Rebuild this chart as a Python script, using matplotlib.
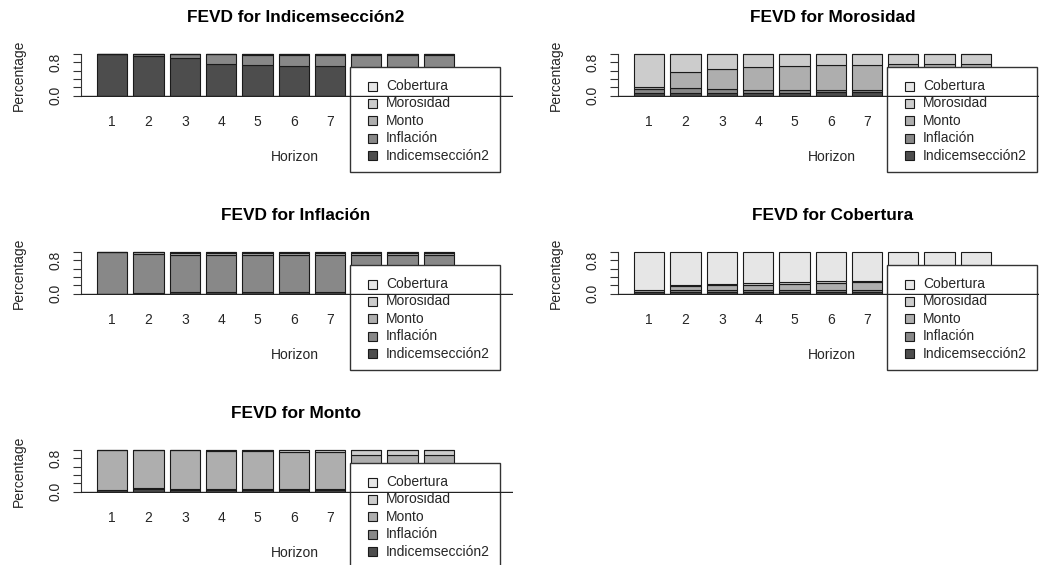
import matplotlib
matplotlib.use("Agg")
import matplotlib.pyplot as plt
from matplotlib.patches import Rectangle
from matplotlib.transforms import Affine2D
import numpy as np

plt.rcParams["font.family"] = ["Liberation Sans", "DejaVu Sans"]

# %%
horizons = list(range(1, 11))
variables = ["Indicemsección2", "Inflación", "Monto", "Morosidad", "Cobertura"]
grays = ["#4d4d4d", "#888888", "#aeaeae", "#cccccc", "#e6e6e6"]

# shares per horizon, columns in the order of `variables`
fevd_indice = [
    [1.00, 0.00, 0.000, 0.000, 0.000],
    [0.95, 0.04, 0.005, 0.003, 0.002],
    [0.91, 0.08, 0.005, 0.003, 0.002],
    [0.76, 0.23, 0.005, 0.003, 0.002],
    [0.73, 0.24, 0.020, 0.005, 0.005],
    [0.71, 0.26, 0.020, 0.005, 0.005],
    [0.70, 0.27, 0.020, 0.005, 0.005],
    [0.69, 0.28, 0.020, 0.005, 0.005],
    [0.68, 0.29, 0.020, 0.005, 0.005],
    [0.67, 0.30, 0.020, 0.005, 0.005],
]
fevd_morosidad = [
    [0.07, 0.08, 0.05, 0.80, 0.00],
    [0.07, 0.12, 0.37, 0.44, 0.00],
    [0.07, 0.08, 0.48, 0.37, 0.00],
    [0.07, 0.07, 0.54, 0.32, 0.00],
    [0.07, 0.07, 0.57, 0.29, 0.00],
    [0.08, 0.06, 0.60, 0.26, 0.00],
    [0.08, 0.05, 0.61, 0.26, 0.00],
    [0.08, 0.05, 0.62, 0.25, 0.00],
    [0.08, 0.05, 0.63, 0.24, 0.00],
    [0.08, 0.05, 0.63, 0.24, 0.00],
]
fevd_inflacion = [
    [0.005, 0.995, 0.00, 0.00, 0.00],
    [0.020, 0.940, 0.03, 0.01, 0.00],
    [0.030, 0.900, 0.05, 0.02, 0.00],
    [0.030, 0.890, 0.06, 0.02, 0.00],
    [0.030, 0.890, 0.06, 0.02, 0.00],
    [0.030, 0.890, 0.06, 0.02, 0.00],
    [0.030, 0.890, 0.06, 0.02, 0.00],
    [0.030, 0.890, 0.06, 0.02, 0.00],
    [0.030, 0.890, 0.06, 0.02, 0.00],
    [0.030, 0.890, 0.06, 0.02, 0.00],
]
fevd_cobertura = [
    [0.03, 0.02, 0.04, 0.01, 0.90],
    [0.05, 0.05, 0.08, 0.02, 0.80],
    [0.05, 0.05, 0.10, 0.03, 0.77],
    [0.05, 0.05, 0.12, 0.03, 0.75],
    [0.05, 0.05, 0.14, 0.03, 0.73],
    [0.05, 0.05, 0.15, 0.06, 0.69],
    [0.05, 0.05, 0.17, 0.03, 0.70],
    [0.05, 0.05, 0.17, 0.04, 0.69],
    [0.05, 0.05, 0.17, 0.04, 0.69],
    [0.05, 0.05, 0.17, 0.04, 0.69],
]
fevd_monto = [
    [0.04, 0.005, 0.955, 0.000, 0.000],
    [0.07, 0.010, 0.920, 0.000, 0.000],
    [0.05, 0.010, 0.930, 0.005, 0.005],
    [0.05, 0.010, 0.920, 0.010, 0.010],
    [0.05, 0.010, 0.910, 0.020, 0.010],
    [0.05, 0.010, 0.890, 0.040, 0.010],
    [0.05, 0.010, 0.880, 0.050, 0.010],
    [0.05, 0.010, 0.830, 0.100, 0.010],
    [0.05, 0.010, 0.820, 0.110, 0.010],
    [0.05, 0.010, 0.810, 0.120, 0.010],
]

panels = [
    ("Indicemsección2", fevd_indice, (0, 0)),
    ("Morosidad", fevd_morosidad, (537, 0)),
    ("Inflación", fevd_inflacion, (0, 198)),
    ("Cobertura", fevd_cobertura, (537, 198)),
    ("Monto", fevd_monto, (0, 396)),
]

# %%
W, H = 1039, 565
fig = plt.figure(figsize=(W / 100, H / 100), dpi=100)
fig.patch.set_facecolor("white")

TXT = "#262626"
# plot region of one panel, in pixels from the panel's top-left corner
X0, X1, Y0, Y1 = 81, 513, 52.3, 97.4
centers = 0.7 + 1.2 * np.arange(len(horizons))
# the legend box sits over the last three horizon labels
shown = [str(h) if h <= 7 else "" for h in horizons]


def panel_tf(dx, dy):
    return Affine2D().translate(dx, dy).scale(1 / W, -1 / H).translate(0, 1) + fig.transFigure


for name, shares, (dx, dy) in panels:
    ax = fig.add_axes([(X0 + dx) / W, 1 - (Y1 + dy) / H, (X1 - X0) / W, (Y1 - Y0) / H])
    ax.set_facecolor("none")
    tf = panel_tf(dx, dy)
    shares = np.array(shares)

    bottom = np.zeros(len(horizons))
    for j, var in enumerate(variables):
        ax.bar(centers, shares[:, j], width=1.0, bottom=bottom, color=grays[j],
               edgecolor="#1a1a1a", linewidth=0.8, zorder=2)
        bottom += shares[:, j]

    ax.set_xlim(-0.335, 13.95)
    ax.set_ylim(-0.04, 1.04)
    for side in ["top", "right", "bottom"]:
        ax.spines[side].set_visible(False)
    ax.spines["left"].set_bounds(0, 1)
    ax.spines["left"].set_color("#333333")
    ax.set_yticks(np.arange(0, 1.01, 0.2))
    ax.set_yticklabels(["0.0", "", "", "", "0.8", ""], rotation=90, va="center")
    ax.tick_params(axis="y", length=6, width=0.8, color="#333333", pad=7,
                   labelsize=10, labelcolor=TXT)
    ax.set_xticks(centers)
    ax.set_xticklabels(shown)
    ax.tick_params(axis="x", length=0, pad=13, labelsize=10, labelcolor=TXT)

    ax.text(296, 18, f"FEVD for {name}", transform=tf, ha="center", va="center",
            fontsize=12.4, fontweight="bold", color="black", clip_on=False)
    ax.text(295, 157, "Horizon", transform=tf, ha="center", va="center",
            fontsize=10, color=TXT, clip_on=False)
    ax.text(19, 75, "Percentage", transform=tf, ha="center", va="center",
            rotation=90, fontsize=10, color=TXT, clip_on=False)

    # legend box, top entry is the last variable in the stack
    ax.add_patch(Rectangle((350, 67), 150, 105, transform=tf, facecolor="white",
                           edgecolor="#333333", linewidth=1.0, clip_on=False, zorder=5))
    for i, var in enumerate(variables[::-1]):
        yy = 86 + 17.4 * i
        ax.add_patch(Rectangle((367.5, yy - 4.5), 9, 9, transform=tf,
                               facecolor=grays[::-1][i], edgecolor="#1a1a1a",
                               linewidth=0.8, clip_on=False, zorder=6))
        ax.text(386, yy, var, transform=tf, ha="left", va="center", fontsize=10,
                color=TXT, clip_on=False, zorder=6)

    ax.axhline(0, color="#222222", linewidth=1.0, zorder=8)

fig.savefig("out.png", dpi=100, facecolor="white")
